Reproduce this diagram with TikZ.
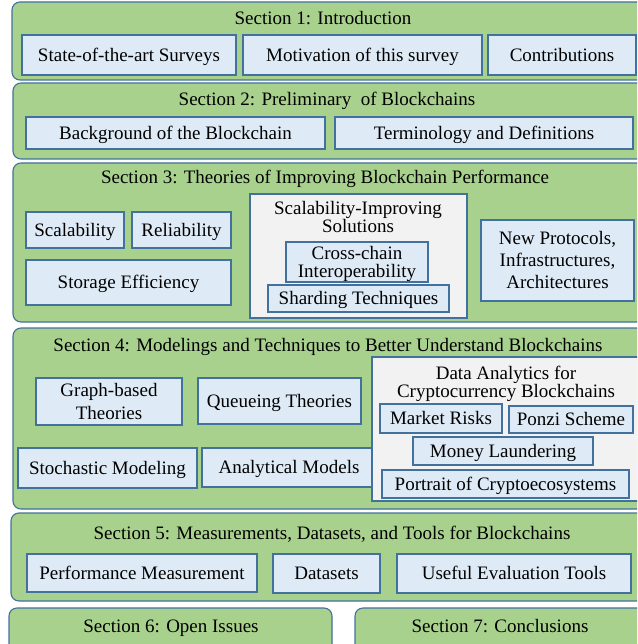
\documentclass[tikz,border=0pt]{standalone}
\usepackage{fontspec}
\setmainfont{Liberation Serif}
\usepackage{tikz}

\definecolor{secgreen}{HTML}{A9D18E}
\definecolor{topicblue}{HTML}{DEEBF7}
\definecolor{edgeblue}{HTML}{41719C}
\definecolor{groupgray}{HTML}{F2F2F2}

\tikzset{
  section/.style={draw=edgeblue, fill=secgreen, rounded corners=8pt, line width=1.1pt},
  group/.style={draw=edgeblue, fill=groupgray, line width=1.1pt},
  topic/.style={draw=edgeblue, fill=topicblue, line width=1.5pt, align=center, inner sep=0pt,
    text height=12.6, text depth=0},
  title/.style={inner sep=0pt, anchor=base, align=center, text depth=0}
}

\begin{document}
\begin{tikzpicture}[x=1pt, y=-1pt, font=\fontsize{19}{19}\selectfont]

\useasboundingbox (0,0) rectangle (637,644);
\clip (0,0) rectangle (637,644);

% Definição das seções

\foreach \n/\x/\y/\w/\h in {1/330/41/636/78, 2/330.5/121/635/76, 3/330.5/242.5/635/159,
    4/330.5/418.5/635/181, 5/329.5/557/637/88, 6/170.5/631.5/323/47, 7/501.5/631.5/293/47}
  \node [section, minimum width=\w, minimum height=\h] (sec-\n) at (\x,\y) {};

% Definição dos títulos.

\foreach \l/\x/\y [count=\i] in {{Section 1: Introduction}/323/25,
    {Section 2: Preliminary~ of Blockchains}/327/106,
    {Section 3: Theories of Improving Blockchain Performance}/325/184,
    {Section 4: Modelings and Techniques to Better Understand Blockchains}/328/351,
    {Section 5: Measurements, Datasets, and Tools for Blockchains}/332/539,
    {Section 6: Open Issues}/171/632,
    {Section 7: Conclusions}/500/632}
  \node [title] (title-\i) at (\x,\y) {\l};

% Seção 1

\node [topic, minimum width=214, minimum height=40] (surveys) at (129,55) {State-of-the-art Surveys};
\node [topic, minimum width=239, minimum height=40] (motivation) at (362.5,55) {Motivation of this survey};
\node [topic, minimum width=148, minimum height=40] (contrib) at (562,55) {Contributions};

% Seção 2

\node [topic, minimum width=299, minimum height=32] (background) at (175.5,133) {Background of the Blockchain};
\node [topic, minimum width=298, minimum height=32] (terms) at (484,133) {Terminology and Definitions};

% Seção 3

\node [topic, minimum width=98, minimum height=36] (scal) at (75,230) {Scalability};
\node [topic, minimum width=99, minimum height=36] (reli) at (181.5,230) {Reliability};
\node [topic, minimum width=205, minimum height=45] (storage) at (128.5,282.5) {Storage Efficiency};

\node [group, minimum width=217, minimum height=124] (improving) at (358.5,256) {};
\node [title, anchor=center, font=\fontsize{19}{18.4}\selectfont] (improving-title) at (358,217)
  {Scalability-Improving\\Solutions};
\node [topic, minimum width=142, minimum height=40, text height=30.6, font=\fontsize{19}{18}\selectfont]
  (cross) at (357,262) {Cross-chain\\Interoperability};
\node [topic, minimum width=181, minimum height=27] (sharding) at (358.5,298.5) {Sharding Techniques};

\node [topic, minimum width=153, minimum height=81, text height=56.6, font=\fontsize{19}{22}\selectfont]
  (protocols) at (557.5,260.5) {New Protocols,\\Infrastructures,\\Architectures};

% Seção 4

\node [topic, minimum width=146, minimum height=47, text height=35.1, font=\fontsize{19}{22.5}\selectfont]
  (graph) at (109,401.5) {Graph-based\\Theories};
\node [topic, minimum width=163, minimum height=46] (queue) at (279.5,401) {Queueing Theories};
\node [topic, minimum width=179, minimum height=40] (stoch) at (107.5,468) {Stochastic Modeling};
\node [topic, minimum width=174, minimum height=39] (analytic) at (289,467.5) {Analytical Models};

\node [group, minimum width=278, minimum height=144] (analytics) at (511,429) {};
\node [title, anchor=center, font=\fontsize{19}{18}\selectfont] (analytics-title) at (506,382)
  {Data Analytics for\\Cryptocurrency Blockchains};
\node [topic, minimum width=122, minimum height=29] (market) at (441,418.5) {Market Risks};
\node [topic, minimum width=124, minimum height=27] (ponzi) at (571,419.5) {Ponzi Scheme};
\node [topic, minimum width=180, minimum height=28] (laundering) at (503,451) {Money Laundering};
\node [topic, minimum width=247, minimum height=28] (portrait) at (505.5,484) {Portrait of Cryptoecosystems};

% Seção 5

\node [topic, minimum width=230, minimum height=38] (perf) at (142,573) {Performance Measurement};
\node [topic, minimum width=107, minimum height=39] (datasets) at (326.5,573.5) {Datasets};
\node [topic, minimum width=234, minimum height=39] (tools) at (514,573.5) {Useful Evaluation Tools};

\end{tikzpicture}
\end{document}
